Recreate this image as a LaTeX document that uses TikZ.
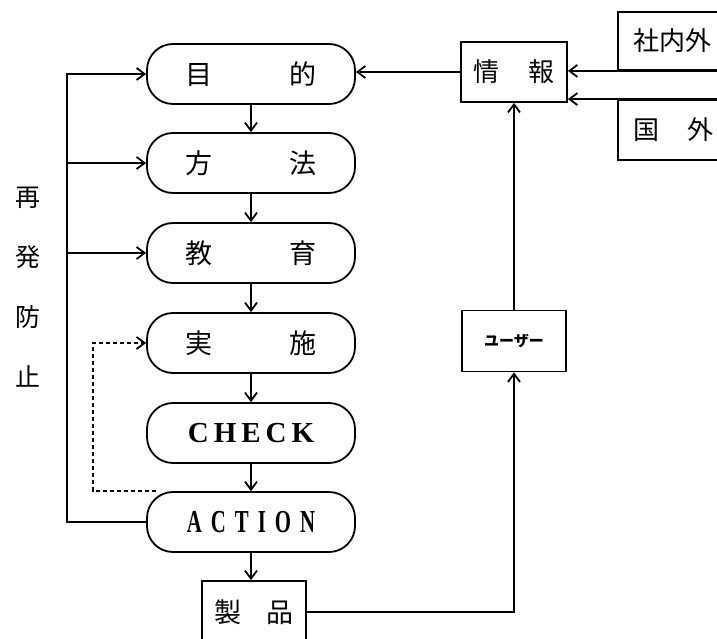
\documentclass[tikz,border=0pt]{standalone}
\usepackage{fontspec}
\usetikzlibrary{arrows.meta}
\newfontfamily\jp{Noto Sans CJK JP}
\newfontfamily\lat{Liberation Serif}
\newfontfamily\latn[FakeStretch=0.65]{Liberation Serif}
\begin{document}
\begin{tikzpicture}[x=1pt,y=-1pt,
  line width=1.8pt,
  stadium/.style={draw, rounded corners=26pt, minimum width=208pt, minimum height=60pt, inner sep=0pt,
    font=\jp\fontsize{27}{30}\selectfont},
  sqbox/.style={draw, rectangle, inner sep=0pt, font=\jp\fontsize{26}{28}\selectfont},
  outbox/.style={draw, rectangle, anchor=west, minimum height=58pt, text width=124pt, inner xsep=16pt, inner ysep=0pt, align=left,
    font=\jp\fontsize{26}{30}\selectfont},
  arr/.style={-{Straight Barb[length=8pt,width=12pt]}},
  dsh/.style={dash pattern=on 4pt off 3pt}
]
\path[use as bounding box] (0,0) rectangle (717,639);
\clip (0,0) rectangle (717,639);

% main column
\node[stadium] (mok) at (251,74) {目\hspace{77pt}的};
\node[stadium] (hoh) at (251,163) {方\hspace{77pt}法};
\node[stadium] (kyo) at (251,253) {教\hspace{77pt}育};
\node[stadium] (jis) at (251,343) {実\hspace{77pt}施};
\node[stadium, font=\lat\bfseries\fontsize{29}{34}\selectfont] (chk) at (251,433) {C\hspace{5pt}H\hspace{5pt}E\hspace{5pt}C\hspace{5pt}K};
\node[stadium, font=\latn\bfseries\fontsize{32}{34}\selectfont] (act) at (251,522) {A\hspace{9pt}C\hspace{9pt}T\hspace{9pt}I\hspace{9pt}O\hspace{9pt}N};

% product
\node[sqbox, minimum width=104pt, minimum height=62pt, font=\jp\fontsize{27}{30}\selectfont] (sei) at (254,612) {製\hspace{25pt}品};

% info, user
\node[sqbox, minimum width=106pt, minimum height=60pt] (jh) at (514,72) {情\hspace{30pt}報};
\node[sqbox, minimum width=104pt, minimum height=61pt, font=\jp\bfseries\fontsize{15}{17}\selectfont] (us) at (514,341) {ユーザー};

% outside sources
\node[outbox] (sn) at (617,41) {社内外};
\node[outbox, minimum height=60pt] (kg) at (617,130) {国\hspace{28pt}外};

% side label
\node[font=\jp\fontsize{25}{60}\selectfont, align=center, inner sep=0pt] (sai) at (28,287) {再\\発\\防\\止};

% flow arrows
\draw[arr] (mok.south) -- (hoh.north);
\draw[arr] (hoh.south) -- (kyo.north);
\draw[arr] (kyo.south) -- (jis.north);
\draw[arr] (jis.south) -- (chk.north);
\draw[arr] (chk.south) -- (act.north);
\draw[arr] (act.south) -- (act.south |- sei.north);

% feedback loop
\coordinate (lx) at (67,0);
\draw[arr] (act.west) -- (act.west -| lx) |- (mok.west);
\draw[arr] (hoh.west -| lx) -- (hoh.west);
\draw[arr] (kyo.west -| lx) -- (kyo.west);

% dashed
\coordinate (dx) at (93,0);
\draw[arr, dsh] ([xshift=10pt]act.north west) -- (act.north west -| dx) |- (jis.west);

% info flows
\draw[arr] (jh.west) -- (jh.west -| mok.east);
\draw[arr] (sn.south east) -- (sn.south east -| jh.east);
\draw[arr] (kg.north east) -- (kg.north east -| jh.east);
\draw[arr] (us.north) -- (jh.south);
\draw[arr] (sei.east) -| (us.south);
\end{tikzpicture}
\end{document}
